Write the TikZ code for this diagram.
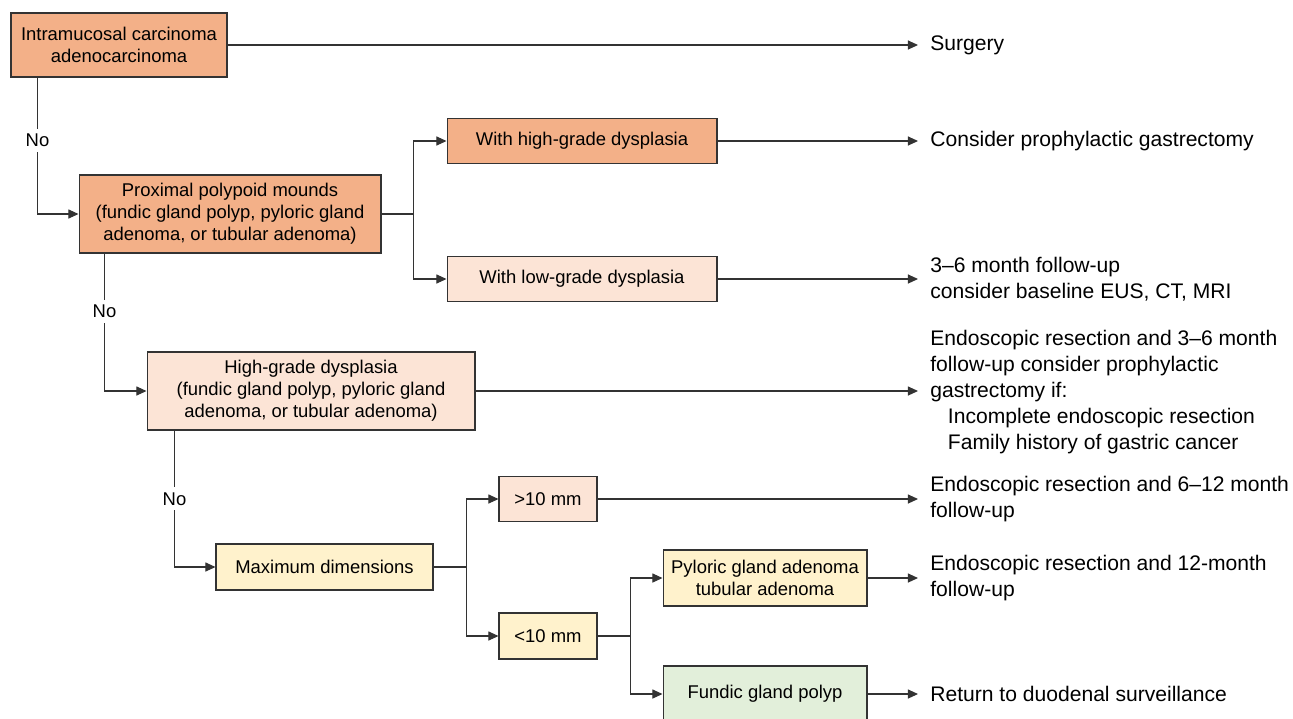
\documentclass[tikz,border=0pt]{standalone}
\usepackage{fontspec}
\setmainfont{Liberation Sans}
\usetikzlibrary{arrows.meta}
\definecolor{boxorange}{RGB}{243,176,136}
\definecolor{boxpink}{RGB}{252,228,214}
\definecolor{boxyellow}{RGB}{255,242,204}
\definecolor{boxgreen}{RGB}{226,239,218}
\definecolor{linegray}{RGB}{51,51,51}
\tikzset{
  box/.style={draw=linegray,line width=0.6pt,inner sep=0pt,align=center,
    font=\fontsize{10.5}{12.5}\selectfont},
  outcome/.style={anchor=west,align=left,inner xsep=0.24cm,inner ysep=0pt,
    font=\fontsize{12}{14.7}\selectfont},
  link/.style={draw=linegray,line width=0.6pt},
  arr/.style={link,-{Triangle[length=5.8pt,width=5.2pt]}},
  nolabel/.style={fill=white,inner xsep=1pt,inner ysep=3pt,
    font=\fontsize{10.5}{12.5}\selectfont}
}
\begin{document}
\begin{tikzpicture}[x=0.02cm,y=-0.02cm]
      \useasboundingbox (0,0) rectangle (1293,718);
      % boxes
      \node[box,fill=boxorange,minimum width=4.32cm,minimum height=1.28cm] (carc) at (119,45) {Intramucosal carcinoma\\adenocarcinoma};
      \node[box,fill=boxorange,minimum width=6.04cm,minimum height=1.56cm] (prox) at (230,214) {Proximal polypoid mounds\\(fundic gland polyp, pyloric gland\\adenoma, or tubular adenoma)};
      \node[box,fill=boxorange,minimum width=5.4cm,minimum height=0.9cm] (high) at (582,141) {With high-grade dysplasia};
      \node[box,fill=boxpink,minimum width=5.4cm,minimum height=0.9cm] (low) at (582,279) {With low-grade dysplasia};
      \node[box,fill=boxpink,minimum width=6.56cm,minimum height=1.56cm] (hgd) at (311,391) {High-grade dysplasia\\(fundic gland polyp, pyloric gland\\adenoma, or tubular adenoma)};
      \node[box,fill=boxyellow,minimum width=4.34cm,minimum height=0.92cm] (maxdim) at (324.5,567) {Maximum dimensions};
      \node[box,fill=boxpink,minimum width=1.96cm,minimum height=0.9cm] (gt10) at (548,499) {>10 mm};
      \node[box,fill=boxyellow,minimum width=1.96cm,minimum height=0.92cm] (lt10) at (548,636) {<10 mm};
      \node[box,fill=boxyellow,minimum width=4.08cm,minimum height=1.12cm] (pga) at (765,578) {Pyloric gland adenoma\\tubular adenoma};
      \node[box,fill=boxgreen,minimum width=4.08cm,minimum height=1.12cm] (fgp) at (765,694) {Fundic gland polyp};
      % outcomes
      \node[outcome] (surgery) at (918,45) {Surgery};
      \node[outcome] (prophy) at (918,141) {Consider prophylactic gastrectomy};
      \node[outcome] (follow) at (918,279) {3–6 month follow-up\\consider baseline EUS, CT, MRI};
      \node[outcome] (endo) at (918,392) {Endoscopic resection and 3–6 month\\follow-up consider prophylactic\\gastrectomy if:\\\hspace*{10pt}Incomplete endoscopic resection\\\hspace*{10pt}Family history of gastric cancer};
      \node[outcome] (res612) at (918,499) {Endoscopic resection and 6–12 month\\follow-up};
      \node[outcome] (res12) at (918,578) {Endoscopic resection and 12-month\\follow-up};
      \node[outcome] (ret) at (918,694) {Return to duodenal surveillance};
      % junctions
      \coordinate (jprox) at ([xshift=0.64cm]prox.east);
      \coordinate (jmax) at ([xshift=0.66cm]maxdim.east);
      \coordinate (jlt) at ([xshift=0.66cm]lt10.east);
      % connectors
      \draw[arr] (carc.east) -- (carc.east -| surgery.west);
      \draw[arr] ([xshift=0.54cm]carc.south west) |- node[nolabel,pos=0.23] {No} (prox.west);
      \draw[arr] ([xshift=0.52cm]prox.south west) |- node[nolabel,pos=0.21] {No} (hgd.west);
      \draw[arr] ([xshift=0.56cm]hgd.south west) |- node[nolabel,pos=0.25] {No} (maxdim.west);
      \draw[link] (prox.east) -- (jprox);
      \draw[arr] (jprox) |- (high.west);
      \draw[arr] (jprox) |- (low.west);
      \draw[arr] (high.east) -- (high.east -| prophy.west);
      \draw[arr] (low.east) -- (low.east -| follow.west);
      \draw[arr] (hgd.east) -- (hgd.east -| endo.west);
      \draw[link] (maxdim.east) -- (jmax);
      \draw[arr] (jmax) |- (gt10.west);
      \draw[arr] (jmax) |- (lt10.west);
      \draw[arr] (gt10.east) -- (gt10.east -| res612.west);
      \draw[link] (lt10.east) -- (jlt);
      \draw[arr] (jlt) |- (pga.west);
      \draw[arr] (jlt) |- (fgp.west);
      \draw[arr] (pga.east) -- (pga.east -| res12.west);
      \draw[arr] (fgp.east) -- (fgp.east -| ret.west);
\end{tikzpicture}
\end{document}
